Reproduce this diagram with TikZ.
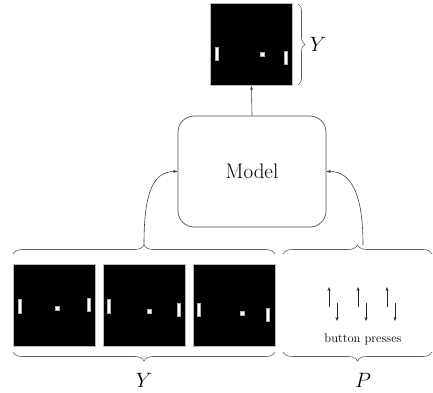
\documentclass[tikz,border=0pt]{standalone}
\usetikzlibrary{arrows.meta,decorations.pathreplacing}
\begin{document}
\begin{tikzpicture}[x=1pt,y=-1pt,
  frame/.style={draw=gray!55, fill=black, line width=0.6pt,
    minimum width=82pt, minimum height=82pt, inner sep=0pt},
  sprite/.style={fill=white, draw=gray!65, line width=0.5pt},
  bracket/.style={draw=gray!75!black, line width=0.6pt, decorate,
    decoration={brace, amplitude=#1}},
  link/.style={draw=black!75, line width=0.6pt, -{Stealth[length=4.5pt,width=3pt]}},
  press/.style={draw=black!85, line width=0.6pt, -{Stealth[length=4pt,width=3pt]}},
  modelbox/.style={draw=black!70, line width=0.7pt, rounded corners=16pt,
    minimum width=148pt, minimum height=111pt, inner sep=0pt},
  biglabel/.style={font=\fontsize{22}{24}\selectfont},
]
\useasboundingbox (0,0) rectangle (433,392);

% paddle: x, top y, bottom y ; ball: x, y
\newcommand\padat[3]{\path[sprite] (#1-1.5,#2) rectangle (#1+1.5,#3);}
\newcommand\ballat[2]{\path[sprite] (#1-2,#2-2) rectangle (#1+2,#2+2);}

% predicted frame
\node[frame] (out) at (251.5,44.5) {};
\padat{217}{47}{60}
\ballat{262}{54}
\padat{286}{51}{64}
\draw[bracket=7pt] (298,4) -- (298,85);
\node[biglabel] (ylabtop) at (318,44) {$Y$};

% model
\node[modelbox, font=\fontsize{21}{24}\selectfont] (model) at (252,171.5) {Model};
\draw[link] (model.north) -- (out.south);

% input frames
\node[frame] (f1) at (54,305) {};
\node[frame] (f2) at (144,305) {};
\node[frame] (f3) at (234,305) {};
\padat{20}{299}{313}
\ballat{57}{308}
\padat{89}{298}{311}
\padat{109}{299}{313}
\ballat{149}{311}
\padat{179}{303}{316}
\padat{199}{303}{316}
\ballat{242}{313}
\padat{268}{308}{321}

% braces round the inputs
\draw[bracket=9pt] (13,254) -- (275,254);
\draw[bracket=9pt] (275,352) -- (13,352);
\draw[bracket=9pt] (283,254) -- (432,254);
\draw[bracket=9pt] (432,352) -- (283,352);
\coordinate (ytip) at (144,245);
\coordinate (ptip) at (363,245);
\node[biglabel] (ylab) at (144,380) {$Y$};
\node[biglabel] (plab) at (363,380) {$P$};

% button presses
\foreach \x in {329,358,387} \draw[press] (\x,307) -- (\x,287);
\foreach \x in {337,366,395} \draw[press] (\x,303) -- (\x,321);
\node[font=\fontsize{12.5}{14}\selectfont] (presses) at (363,339) {button presses};

% inputs into the model
\draw[link] (ytip) .. controls (144,200) and (150,171) .. (model.west);
\draw[link] (ptip) .. controls (363,200) and (354,171) .. (model.east);
\end{tikzpicture}
\end{document}
